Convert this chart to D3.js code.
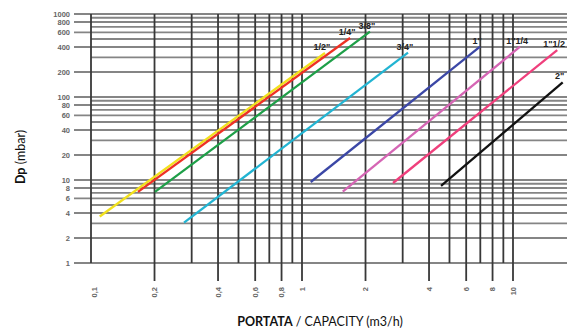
<!DOCTYPE html>
<html lang="en">
<head>
    <meta charset="UTF-8">
    <title>Dp / portata</title>
    <script src="https://d3js.org/d3.v7.min.js"></script>
    <style>
        body { margin: 0; background: #fff; }
        svg { display: block; }
        .tick-label {
            font-family: "Liberation Sans", Arial, sans-serif;
            font-size: 7.5px;
            font-weight: bold;
            fill: #666;
        }
        .size-label {
            font-family: "Liberation Sans", Arial, sans-serif;
            font-size: 9px;
            font-weight: bold;
            fill: #222;
        }
        .title {
            font-family: Lato, "Open Sans", sans-serif;
            font-size: 12.5px;
            fill: #111;
        }
    </style>
</head>
<body>
<svg id="chart" width="567" height="330"></svg>

<script>
    // pipe sizes and their straight (log-log) lines
    const sizes = ['1/2"', '1/4"', '3/8"', '3/4"', '1"', '1"1/4', '1"1/2', '2"'];
    const colors = ['#f2e11d', '#ee3124', '#1e9f48', '#22b4d2', '#3b47a6', '#d565b4', '#ef3f7c', '#111111'];
    const flowStart = [0.110, 0.167, 0.201, 0.276, 1.10, 1.56, 2.70, 4.56];
    const flowEnd   = [1.285, 1.69, 2.10, 3.18, 6.98, 10.8, 16.2, 17.2];
    const dpStart   = [3.63, 7.2, 7.2, 3.06, 9.46, 7.23, 9.2, 8.47];
    const dpEnd     = [339, 514, 612, 342, 404, 404, 368, 150];

    // tick labels
    const dpTicks = [1, 2, 4, 6, 8, 10, 20, 40, 60, 80, 100, 200, 400, 600, 800, 1000];
    const flowTicks = [0.1, 0.2, 0.4, 0.6, 0.8, 1, 2, 4, 6, 8, 10];
    const flowTickLabels = ['0,1', '0,2', '0,4', '0,6', '0,8', '1', '2', '4', '6', '8', '10'];

    const plotLeft = 91, plotRight = 513, plotTop = 14, plotBottom = 263, plotEnd = 567;

    const x = d3.scaleLog().domain([0.1, 10]).range([plotLeft, plotRight]);
    const y = d3.scaleLog().domain([1, 1000]).range([plotBottom, plotTop]);

    const svg = d3.select('#chart');

    // minor grid values: 1..9 per decade
    const gridY = [], gridX = [];
    [1, 10, 100].forEach(d => d3.range(1, 10).forEach(m => gridY.push(m * d)));
    gridY.push(1000);
    [0.1, 1].forEach(d => d3.range(1, 10).forEach(m => gridX.push(+(m * d).toFixed(2))));
    gridX.push(10);

    const isDpTick = v => dpTicks.some(t => Math.abs(t - v) < 1e-6);
    const isFlowTick = v => flowTicks.some(t => Math.abs(t - v) < 1e-6);

    svg.append('g')
        .selectAll('line')
        .data(gridY)
        .join('line')
        .attr('x1', d => isDpTick(d) ? plotLeft - 17 : plotLeft)
        .attr('x2', plotEnd)
        .attr('y1', d => y(d))
        .attr('y2', d => y(d))
        .attr('stroke', '#858585')
        .attr('stroke-width', 1.9);

    svg.append('g')
        .selectAll('line')
        .data(gridX)
        .join('line')
        .attr('x1', d => x(d))
        .attr('x2', d => x(d))
        .attr('y1', plotTop)
        .attr('y2', d => isFlowTick(d) && d !== 0.1 ? plotBottom + 18 : plotBottom)
        .attr('stroke', '#383838')
        .attr('stroke-width', 1.8);

    // y tick labels
    svg.append('g')
        .selectAll('text')
        .data(dpTicks)
        .join('text')
        .attr('class', 'tick-label')
        .attr('x', plotLeft - 21)
        .attr('y', d => y(d))
        .attr('dy', '0.35em')
        .attr('text-anchor', 'end')
        .text(d => d);

    // x tick labels, rotated
    svg.append('g')
        .selectAll('text')
        .data(flowTicks)
        .join('text')
        .attr('class', 'tick-label')
        .attr('transform', (d, i) => `translate(${x(d) + (i === 0 ? 3 : 0)},${plotBottom + 24}) rotate(-90)`)
        .attr('dy', '0.35em')
        .attr('text-anchor', 'end')
        .text((d, i) => flowTickLabels[i]);

    // series lines
    const series = sizes.map((s, i) => ({
        size: s,
        color: colors[i],
        points: [[flowStart[i], dpStart[i]], [flowEnd[i], dpEnd[i]]]
    }));

    const line = d3.line().x(d => x(d[0])).y(d => y(d[1]));

    svg.append('g')
        .selectAll('path')
        .data(series)
        .join('path')
        .attr('d', d => line(d.points))
        .attr('fill', 'none')
        .attr('stroke', d => d.color)
        .attr('stroke-width', 2.3);

    svg.append('g')
        .selectAll('text')
        .data(series)
        .join('text')
        .attr('class', 'size-label')
        .attr('x', d => x(d.points[1][0]) - 3)
        .attr('y', d => y(d.points[1][1]) - 3)
        .attr('text-anchor', 'middle')
        .text(d => d.size);

    // axis titles
    const yTitle = svg.append('text')
        .attr('class', 'title')
        .attr('transform', 'translate(25,157) rotate(-90)')
        .attr('text-anchor', 'middle');
    yTitle.append('tspan').attr('font-weight', 'bold').text('Dp');
    yTitle.append('tspan').text(' (mbar)');

    const xTitle = svg.append('text')
        .attr('class', 'title')
        .attr('x', 320)
        .attr('y', 326)
        .attr('text-anchor', 'middle');
    xTitle.append('tspan').attr('font-weight', 'bold').text('PORTATA');
    xTitle.append('tspan').text(' / CAPACITY (m3/h)');
</script>
</body>
</html>
